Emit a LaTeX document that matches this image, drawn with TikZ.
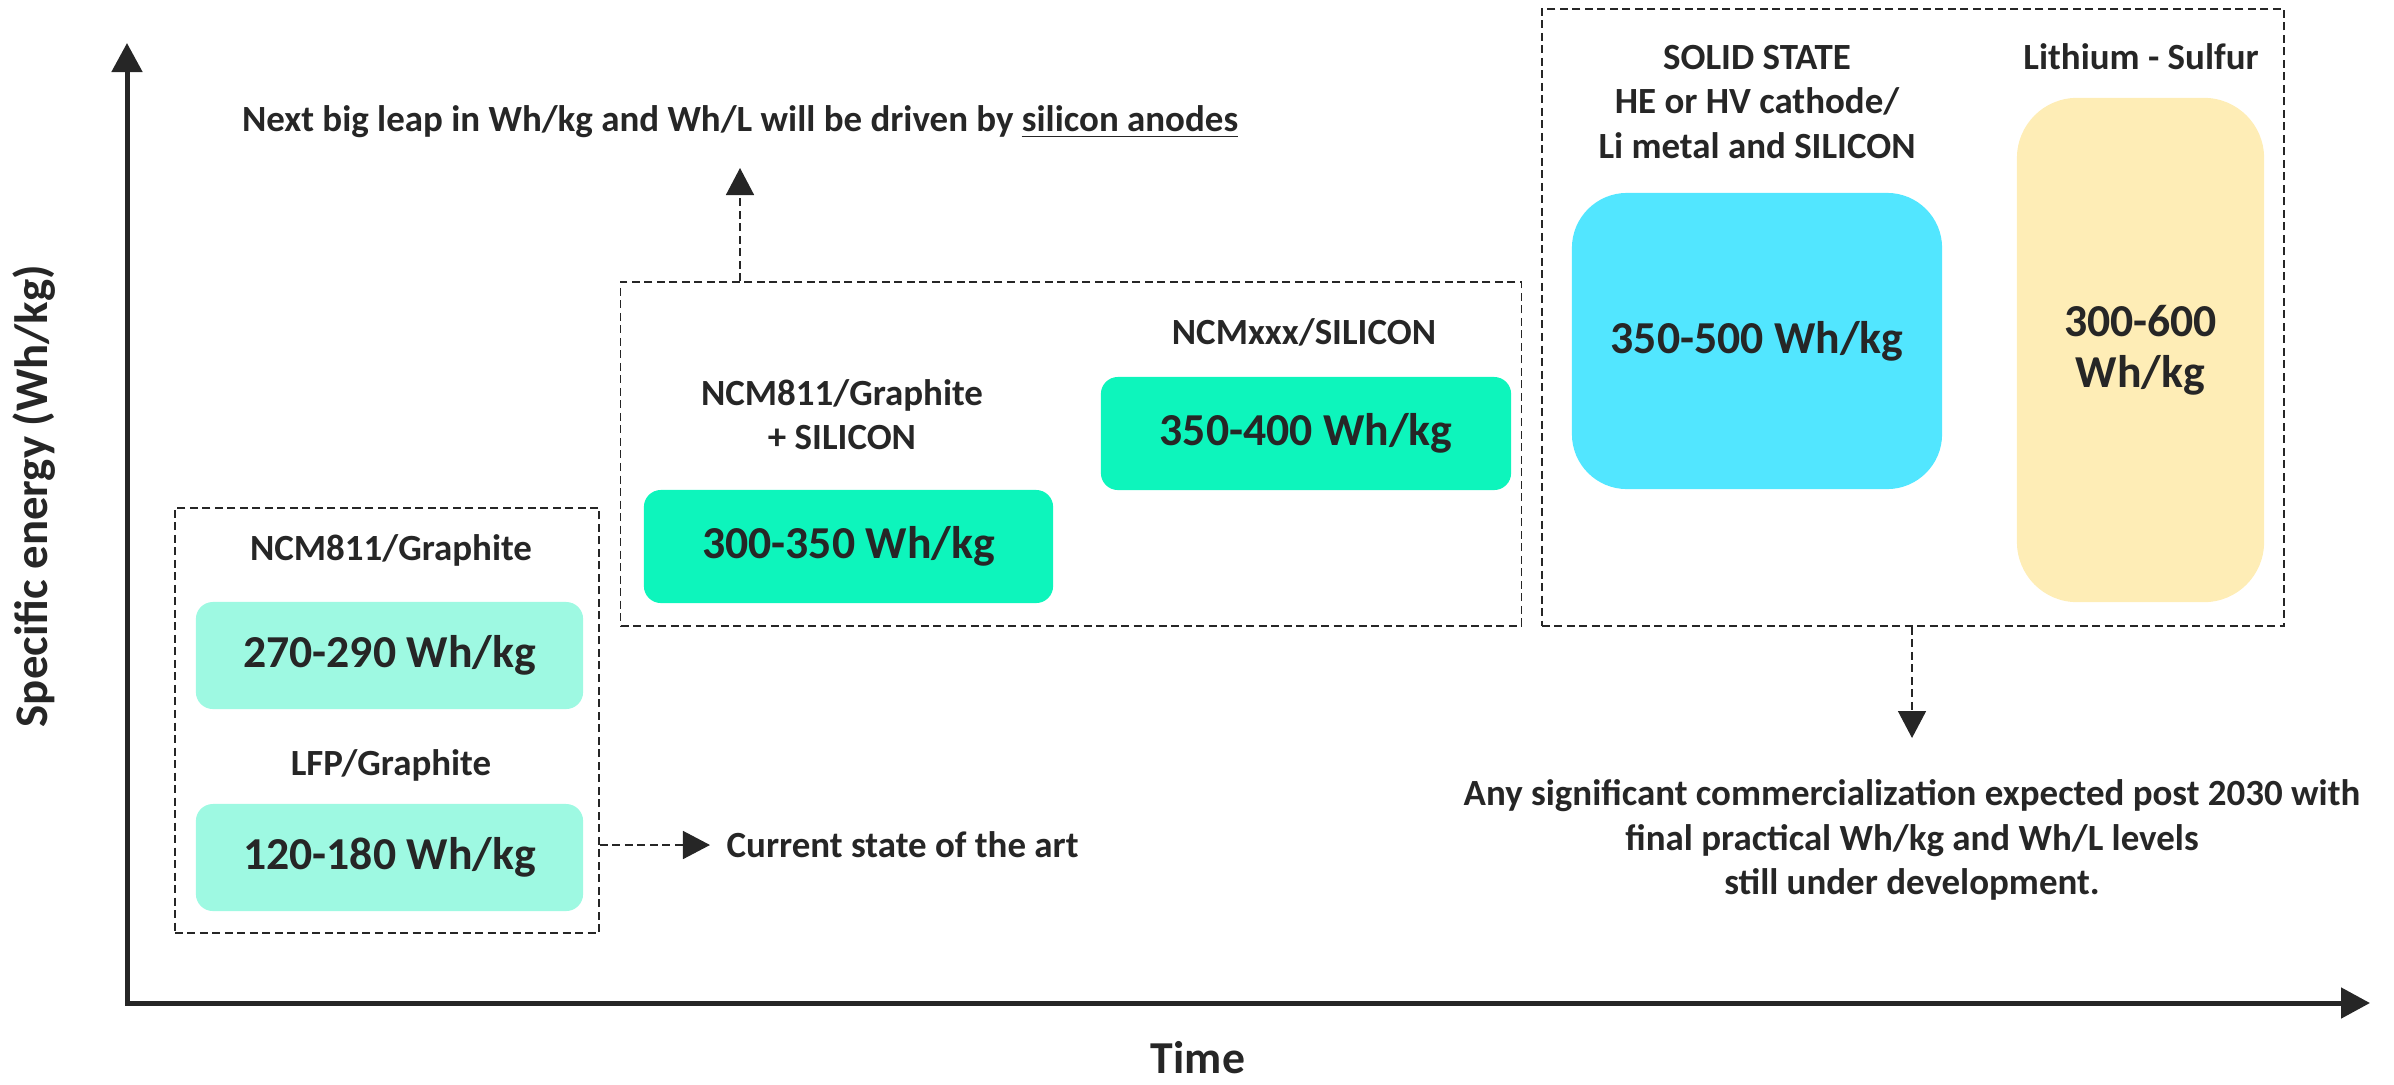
\documentclass[tikz,border=0pt]{standalone}
\usepackage{fontspec}
\setmainfont{Carlito}
\usetikzlibrary{arrows.meta}
\definecolor{ink}{HTML}{262626}
\definecolor{aqualt}{HTML}{9EF9E2}
\definecolor{aquamid}{HTML}{0DF5BC}
\definecolor{skyblue}{HTML}{52E6FF}
\definecolor{sand}{HTML}{FEEDB6}
\begin{document}
\begin{tikzpicture}[x=0.01cm,y=-0.01cm,
  every node/.style={text=ink,inner sep=0pt,font=\bfseries},
  lbl/.style={font=\fontsize{10.5}{12.6}\selectfont\bfseries,align=center},
  big/.style={font=\fontsize{13}{14.6}\selectfont\bfseries,align=center},
  valbox/.style={big,rounded corners=0.17cm},
  grp/.style={draw=ink,line width=0.015cm,dash pattern=on 0.08cm off 0.045cm},
  dconn/.style={draw=ink,line width=0.015cm,dash pattern=on 0.08cm off 0.045cm,
    -{Triangle[length=0.27cm,width=0.28cm]}},
  axis/.style={draw=ink,line width=0.05cm,
    {Triangle[length=0.29cm,width=0.3cm]}-{Triangle[length=0.29cm,width=0.3cm]}}]
\useasboundingbox (0,0) rectangle (2394,1084);

% axes
\coordinate (ytop) at (127,43);
\coordinate (orig) at (127,1003);
\coordinate (xend) at (2370,1003);
\draw[axis] (ytop) -- (orig) -- (xend);
\node[font=\fontsize{13.3}{15}\selectfont\bfseries,rotate=90] (ylab) at (34,496) {Specific energy (Wh/kg)};
\node[font=\fontsize{13}{15}\selectfont\bfseries] (xlab) at (1198,1058) {Time};

% left group
\node[grp,minimum width=4.24cm,minimum height=4.25cm] (leftbox) at (387,720.5) {};
\node[lbl] (ncm811) at (391,550) {NCM811/Graphite};
\node[valbox,fill=aqualt,minimum width=3.87cm,minimum height=1.07cm] (v270) at (389.5,655.5) {270-290 Wh/kg};
\node[lbl] (lfp) at (391,765) {LFP/Graphite};
\node[valbox,fill=aqualt,minimum width=3.87cm,minimum height=1.07cm] (v120) at (389.5,857.5) {120-180 Wh/kg};
\node[lbl,anchor=west] (cur) at (726,845) {Current state of the art};
\draw[dconn,shorten >=0.16cm] (leftbox.east |- cur) -- (cur.west);

% middle group
\node[grp,minimum width=9.00cm,minimum height=3.44cm] (midbox) at (1071,454) {};
\node[lbl] (ncmsi) at (842,415) {NCM811/Graphite\\+ SILICON};
\node[valbox,fill=aquamid,minimum width=4.09cm,minimum height=1.13cm] (v300) at (848.5,546.5) {300-350 Wh/kg};
\node[lbl] (ncmxxx) at (1304,332) {NCMxxx/SILICON};
\node[valbox,fill=aquamid,minimum width=4.10cm,minimum height=1.13cm] (v350) at (1306,433.5) {350-400 Wh/kg};
\node[lbl] (leap) at (740,122) {Next big leap in Wh/kg and Wh/L will be driven by \underline{silicon anodes}};
\coordinate (leaptip) at (740,168);
\draw[dconn] (midbox.north -| leap) -- (leaptip);

% right group
\node[grp,minimum width=7.42cm,minimum height=6.17cm] (rightbox) at (1913,317.5) {};
\node[lbl] (solid) at (1757,102) {SOLID STATE\\HE or HV cathode/\\Li metal and SILICON};
\node[big,fill=skyblue,rounded corners=0.55cm,minimum width=3.70cm,minimum height=2.96cm] (v500) at (1757,341) {350-500 Wh/kg};
\node[lbl] (lis) at (2141,57) {Lithium - Sulfur};
\node[big,fill=sand,rounded corners=0.6cm,minimum width=2.47cm,minimum height=5.04cm,
  font=\fontsize{13}{14.5}\selectfont\bfseries] (v600) at (2140.5,350) {300-600\\Wh/kg};
\node[lbl] (any) at (1912,840) {Any significant commercialization expected post 2030 with\\final practical Wh/kg and Wh/L levels\\still under development.};
\coordinate (anytip) at (1912,738);
\draw[dconn] (rightbox.south -| anytip) -- (anytip);
\end{tikzpicture}
\end{document}
